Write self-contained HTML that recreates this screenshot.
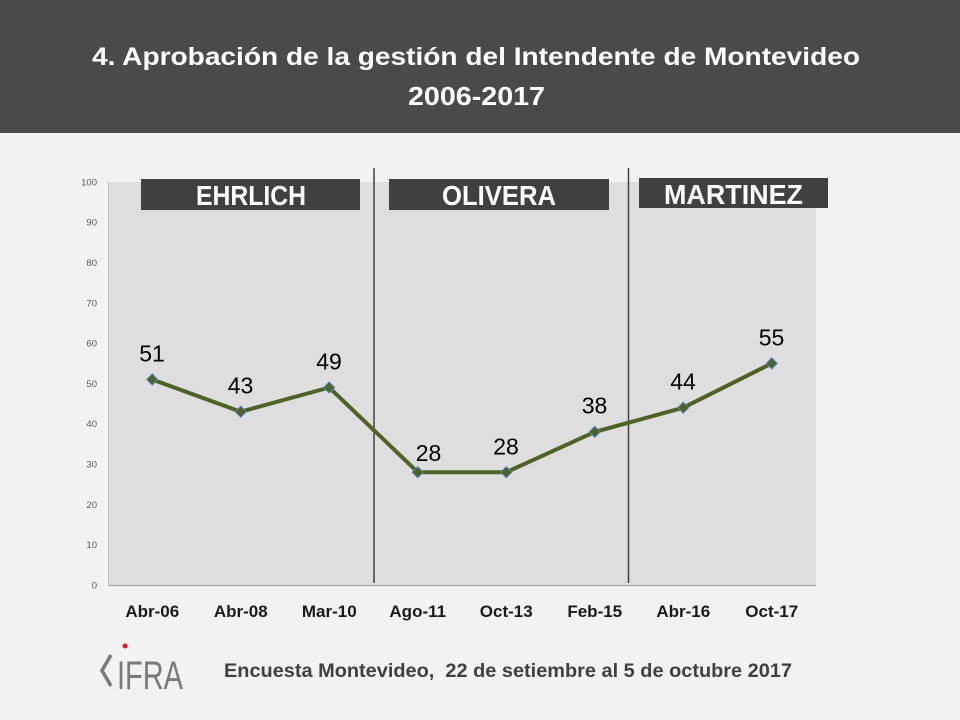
<!DOCTYPE html>
<html><head><meta charset="utf-8"><style>
html,body{margin:0;padding:0;background:#f2f2f2;}
svg{display:block;}
</style></head><body>
<svg width="960" height="720" viewBox="0 0 960 720" xmlns="http://www.w3.org/2000/svg">
<rect x="0" y="0" width="960" height="720" fill="#f2f2f2"/>
<rect x="0" y="0" width="960" height="133" fill="#4a4a4a"/>
<text x="92" y="65" font-family="Liberation Sans, sans-serif" font-weight="bold" font-size="25" fill="#ffffff" textLength="768" lengthAdjust="spacingAndGlyphs">4. Aprobación de la gestión del Intendente de Montevideo</text>
<text x="408" y="105" font-family="Liberation Sans, sans-serif" font-weight="bold" font-size="26" fill="#ffffff" textLength="137" lengthAdjust="spacingAndGlyphs">2006-2017</text>

<!-- plot area -->
<rect x="108" y="182" width="708" height="403" fill="#dedede"/>
<line x1="108.5" y1="182" x2="108.5" y2="585" stroke="#bfbfbf" stroke-width="1"/>
<line x1="108" y1="585.5" x2="816" y2="585.5" stroke="#a6a6a6" stroke-width="1.2"/>

<!-- y ticks -->
<g font-family="Liberation Sans, sans-serif" font-size="9.5" fill="#595959" text-anchor="end">
<text x="97" y="588.4">0</text>
<text x="97" y="548.1">10</text>
<text x="97" y="507.8">20</text>
<text x="97" y="467.5">30</text>
<text x="97" y="427.2">40</text>
<text x="97" y="386.9">50</text>
<text x="97" y="346.6">60</text>
<text x="97" y="306.3">70</text>
<text x="97" y="266.0">80</text>
<text x="97" y="225.7">90</text>
<text x="97" y="185.4">100</text>
</g>

<!-- dividers -->
<line x1="374" y1="168" x2="374" y2="583" stroke="#404040" stroke-width="1.5"/>
<line x1="628.5" y1="168" x2="628.5" y2="583" stroke="#404040" stroke-width="1.5"/>

<!-- name boxes -->
<rect x="141" y="179" width="219" height="31" fill="#404040"/>
<text x="196" y="205" font-family="Liberation Sans, sans-serif" font-weight="bold" font-size="28" fill="#ffffff" textLength="110" lengthAdjust="spacingAndGlyphs">EHRLICH</text>
<rect x="389" y="179" width="220" height="31" fill="#404040"/>
<text x="442" y="205" font-family="Liberation Sans, sans-serif" font-weight="bold" font-size="28" fill="#ffffff" textLength="114" lengthAdjust="spacingAndGlyphs">OLIVERA</text>
<rect x="639" y="178" width="189" height="30" fill="#404040"/>
<text x="664" y="204" font-family="Liberation Sans, sans-serif" font-weight="bold" font-size="28" fill="#ffffff" textLength="139" lengthAdjust="spacingAndGlyphs">MARTINEZ</text>

<!-- series -->
<polyline fill="none" stroke="#4f6228" stroke-width="4" stroke-linejoin="round"
 points="152.25,379.5 240.75,411.7 329.25,387.5 417.75,472.2 506.25,472.2 594.75,431.9 683.25,407.7 771.75,363.4"/>
<g fill="#4f6228" stroke="#4f81bd" stroke-width="1">
<polygon points="152.25,374 157.75,379.5 152.25,385 146.75,379.5"/>
<polygon points="240.75,406.2 246.25,411.7 240.75,417.2 235.25,411.7"/>
<polygon points="329.25,382 334.75,387.5 329.25,393 323.75,387.5"/>
<polygon points="417.75,466.7 423.25,472.2 417.75,477.7 412.25,472.2"/>
<polygon points="506.25,466.7 511.75,472.2 506.25,477.7 500.75,472.2"/>
<polygon points="594.75,426.4 600.25,431.9 594.75,437.4 589.25,431.9"/>
<polygon points="683.25,402.2 688.75,407.7 683.25,413.2 677.75,407.7"/>
<polygon points="771.75,357.9 777.25,363.4 771.75,368.9 766.25,363.4"/>
</g>

<!-- data labels -->
<g font-family="Liberation Sans, sans-serif" font-size="23" fill="#000000" text-anchor="middle">
<text x="152" y="361.5">51</text>
<text x="240.5" y="393.5">43</text>
<text x="329" y="369.5">49</text>
<text x="428.5" y="461">28</text>
<text x="506" y="454.3">28</text>
<text x="594.5" y="413.5">38</text>
<text x="683" y="389.7">44</text>
<text x="771.5" y="345.3">55</text>
</g>

<!-- x labels -->
<g font-family="Liberation Sans, sans-serif" font-size="17" font-weight="bold" fill="#1a1a1a" text-anchor="middle">
<text x="152.25" y="617">Abr-06</text>
<text x="240.75" y="617">Abr-08</text>
<text x="329.25" y="617">Mar-10</text>
<text x="417.75" y="617">Ago-11</text>
<text x="506.25" y="617">Oct-13</text>
<text x="594.75" y="617">Feb-15</text>
<text x="683.25" y="617">Abr-16</text>
<text x="771.75" y="617">Oct-17</text>
</g>

<!-- logo -->
<polyline points="111,655 102,670.5 111,686" fill="none" stroke="#7a7a7a" stroke-width="3.5"/>
<circle cx="125" cy="646" r="2.5" fill="#e02020"/>
<text x="117" y="689" font-family="Liberation Sans, sans-serif" font-size="40" fill="#7a7a7a" textLength="66" lengthAdjust="spacingAndGlyphs">IFRA</text>

<!-- footer -->
<text x="224" y="677" font-family="Liberation Sans, sans-serif" font-weight="bold" font-size="19" fill="#404040" textLength="568" lengthAdjust="spacingAndGlyphs" xml:space="preserve">Encuesta Montevideo,  22 de setiembre al 5 de octubre 2017</text>
</svg>
</body></html>
